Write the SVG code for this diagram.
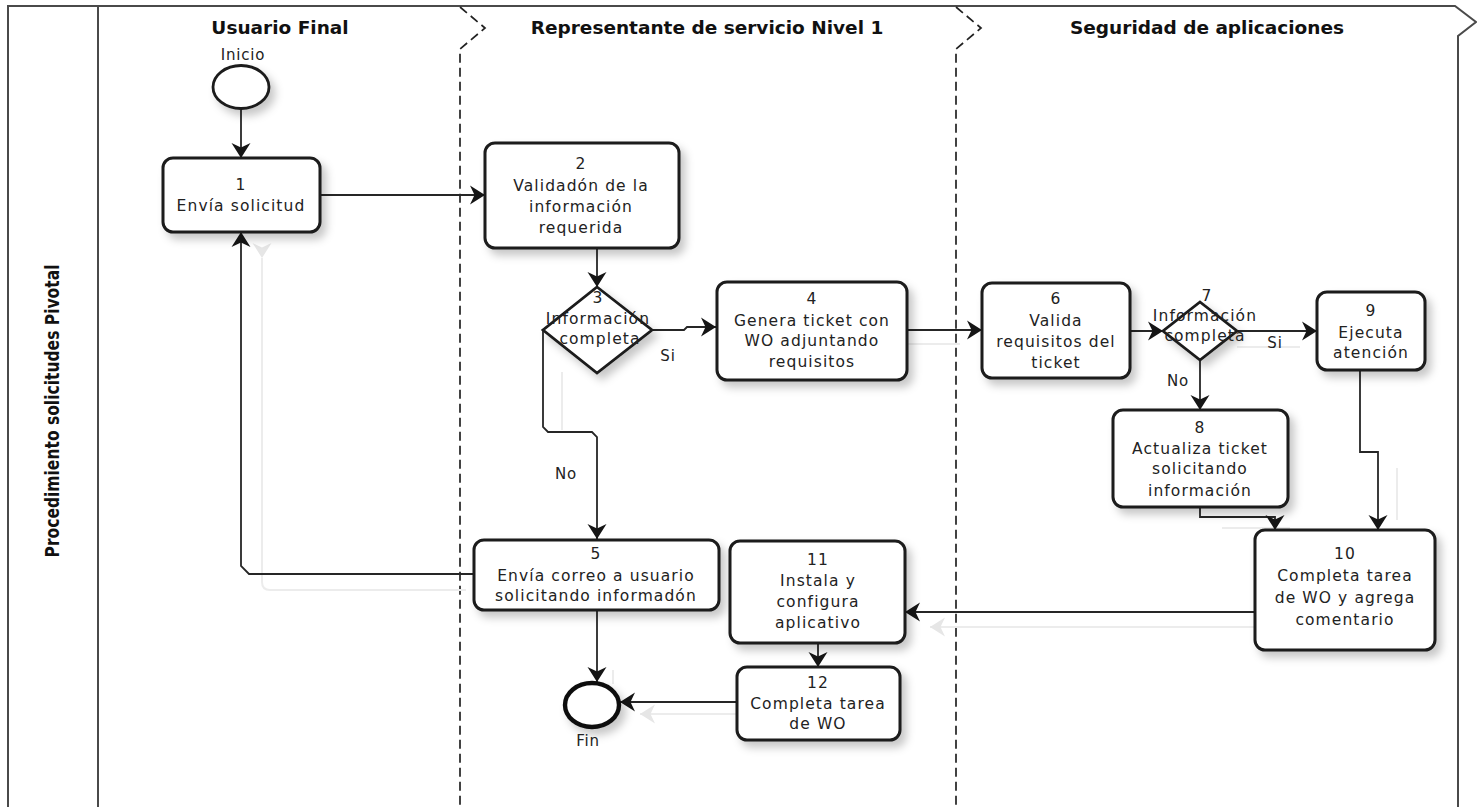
<svg xmlns="http://www.w3.org/2000/svg" width="1477" height="807" viewBox="0 0 1477 807">
  <defs>
    <style>
      .frame { fill: none; stroke: #4a4a4a; stroke-width: 2; }
      .lane { fill: none; stroke: #222222; stroke-width: 1.7; stroke-dasharray: 9 5; }
      .task { fill: #ffffff; stroke: #1a1a1a; stroke-width: 3; }
      .gate { fill: #ffffff; stroke: #1a1a1a; stroke-width: 2.8; }
      .ev { fill: #ffffff; stroke: #1a1a1a; stroke-width: 2.8; }
      .evend { fill: #ffffff; stroke: #111111; stroke-width: 4.4; }
      .flow { fill: none; stroke: #262626; stroke-width: 1.8; }
      .ghost { fill: none; stroke: #ececec; stroke-width: 2; }
      .hdr { font-family: "DejaVu Sans", Verdana, sans-serif; font-weight: bold; font-size: 18.5px; fill: #111111; text-anchor: middle; }
      .pool { font-family: "DejaVu Sans", Verdana, sans-serif; font-weight: bold; font-size: 19px; fill: #111111; text-anchor: middle; }
      .t { font-family: "DejaVu Sans", Verdana, sans-serif; font-size: 15.5px; letter-spacing: 1.1px; fill: #222222; text-anchor: middle; }
      .lbl { font-family: "DejaVu Sans", Verdana, sans-serif; font-size: 15px; letter-spacing: 0.8px; fill: #222222; text-anchor: middle; }
    </style>
    <filter id="shadow" x="-20%" y="-20%" width="150%" height="160%">
      <feDropShadow dx="5" dy="6" stdDeviation="4" flood-color="#000000" flood-opacity="0.22"/>
    </filter>
    <marker id="arr" markerUnits="userSpaceOnUse" markerWidth="18" markerHeight="22" viewBox="-16 -11 18 22" refX="0" refY="0" orient="auto">
      <path d="M0,0 L-15,-9.5 L-10.5,0 L-15,9.5 Z" fill="#151515"/>
    </marker>
    <marker id="arrGhost" markerUnits="userSpaceOnUse" markerWidth="18" markerHeight="22" viewBox="-16 -11 18 22" refX="0" refY="0" orient="auto">
      <path d="M0,0 L-15,-9.5 L-10.5,0 L-15,9.5 Z" fill="#e6e6e6"/>
    </marker>
  </defs>

  <rect x="0" y="0" width="1477" height="807" fill="#ffffff"/>

  <!-- pool frame -->
  <g id="pool">
    <path class="frame" d="M8,807 V6 H1455 L1476,22 L1458,36 V807"/>
    <line class="frame" x1="98" y1="6" x2="98" y2="807"/>
    <text class="pool" transform="translate(59,411) rotate(-90)" textLength="293" lengthAdjust="spacingAndGlyphs">Procedimiento solicitudes Pivotal</text>
  </g>

  <!-- lanes -->
  <g id="lanes">
    <path class="lane" d="M460,7 L485,28 L460,49 V807"/>
    <path class="lane" d="M956,7 L981,28 L956,49 V807"/>
    <text class="hdr" x="280" y="34">Usuario Final</text>
    <text class="hdr" x="707" y="34">Representante de servicio Nivel 1</text>
    <text class="hdr" x="1207" y="34">Seguridad de aplicaciones</text>
  </g>

  <!-- connectors -->
  <g id="connectors">
    <!-- faint duplicate traces -->
    <path class="ghost" d="M262,258 V582 Q262,590 270,590 H466" marker-start="url(#arrGhost)"/>
    <path class="ghost" d="M562,372 V430"/>
    <path class="ghost" d="M907,344 H960"/>
    <path class="ghost" d="M1237,347 H1300"/>
    <path class="ghost" d="M1397,468 V520"/>
    <path class="ghost" d="M1222,528 H1290"/>
    <path class="ghost" d="M1255,627 H930" marker-end="url(#arrGhost)"/>
    <path class="ghost" d="M737,714 H640" marker-end="url(#arrGhost)"/>
    <path class="ghost" d="M613,670 V684"/>

    <path class="flow" d="M241,109 V158" marker-end="url(#arr)"/>
    <path class="flow" d="M320,195 H485" marker-end="url(#arr)"/>
    <path class="flow" d="M597,248 V287" marker-end="url(#arr)"/>
    <path class="flow" d="M652,330 H684 L687,327 H716" marker-end="url(#arr)"/>
    <path class="flow" d="M543,330 V427 L548,432 H592 L597,437 V539" marker-end="url(#arr)"/>
    <path class="flow" d="M474,574 H249 L241,566 V232" marker-end="url(#arr)"/>
    <path class="flow" d="M597,610 V682" marker-end="url(#arr)"/>
    <path class="flow" d="M906,330 H982" marker-end="url(#arr)"/>
    <path class="flow" d="M1130,331 H1163" marker-end="url(#arr)"/>
    <path class="flow" d="M1237,331 H1317" marker-end="url(#arr)"/>
    <path class="flow" d="M1200,360 V410" marker-end="url(#arr)"/>
    <path class="flow" d="M1200,507 V517 H1275 V530" marker-end="url(#arr)"/>
    <path class="flow" d="M1360,370 V452 H1378 V530" marker-end="url(#arr)"/>
    <path class="flow" d="M1255,612 H905" marker-end="url(#arr)"/>
    <path class="flow" d="M818,643 V667" marker-end="url(#arr)"/>
    <path class="flow" d="M737,702 H620" marker-end="url(#arr)"/>

    <text class="lbl" x="668" y="361">Si</text>
    <text class="lbl" x="566" y="479">No</text>
    <text class="lbl" x="1275" y="348">Si</text>
    <text class="lbl" x="1178" y="386">No</text>
  </g>

  <!-- start event -->
  <g id="inicio">
    <ellipse class="ev" cx="241" cy="87" rx="28" ry="21.5" filter="url(#shadow)"/>
    <text class="lbl" x="243" y="60">Inicio</text>
  </g>

  <!-- 1 -->
  <g id="task1">
    <rect class="task" x="163" y="158" width="157" height="74" rx="10" filter="url(#shadow)"/>
    <text class="t" x="241" y="190">1</text>
    <text class="t" x="241" y="211">Envía solicitud</text>
  </g>

  <!-- 2 -->
  <g id="task2">
    <rect class="task" x="485" y="143" width="194" height="105" rx="10" filter="url(#shadow)"/>
    <text class="t" x="581" y="169">2</text>
    <text class="t" x="581" y="191">Validadón de la</text>
    <text class="t" x="581" y="212">información</text>
    <text class="t" x="581" y="233">requerida</text>
  </g>

  <!-- 3 -->
  <g id="gate3">
    <polygon class="gate" points="597,287 652,330 597,373 543,330" filter="url(#shadow)"/>
    <text class="t" x="598" y="303">3</text>
    <text class="t" x="598" y="324">Información</text>
    <text class="t" x="600" y="344">completa</text>
  </g>

  <!-- 4 -->
  <g id="task4">
    <rect class="task" x="717" y="282" width="190" height="98" rx="10" filter="url(#shadow)"/>
    <text class="t" x="812" y="304">4</text>
    <text class="t" x="812" y="326">Genera ticket con</text>
    <text class="t" x="812" y="346">WO adjuntando</text>
    <text class="t" x="812" y="367">requisitos</text>
  </g>

  <!-- 5 -->
  <g id="task5">
    <rect class="task" x="474" y="540" width="245" height="70" rx="10" filter="url(#shadow)"/>
    <text class="t" x="596" y="559">5</text>
    <text class="t" x="596" y="581">Envía correo a usuario</text>
    <text class="t" x="596" y="601">solicitando informadón</text>
  </g>

  <!-- 6 -->
  <g id="task6">
    <rect class="task" x="982" y="283" width="148" height="95" rx="10" filter="url(#shadow)"/>
    <text class="t" x="1056" y="304">6</text>
    <text class="t" x="1056" y="326">Valida</text>
    <text class="t" x="1056" y="347">requisitos del</text>
    <text class="t" x="1056" y="368">ticket</text>
  </g>

  <!-- 7 -->
  <g id="gate7">
    <polygon class="gate" points="1200,302 1237,331 1200,360 1163,331" filter="url(#shadow)"/>
    <text class="t" x="1207" y="301">7</text>
    <text class="t" x="1205" y="321">Información</text>
    <text class="t" x="1205" y="341">completa</text>
  </g>

  <!-- 8 -->
  <g id="task8">
    <rect class="task" x="1113" y="410" width="175" height="97" rx="10" filter="url(#shadow)"/>
    <text class="t" x="1200" y="433">8</text>
    <text class="t" x="1200" y="454">Actualiza ticket</text>
    <text class="t" x="1200" y="474">solicitando</text>
    <text class="t" x="1200" y="496">información</text>
  </g>

  <!-- 9 -->
  <g id="task9">
    <rect class="task" x="1317" y="292" width="108" height="78" rx="10" filter="url(#shadow)"/>
    <text class="t" x="1371" y="316">9</text>
    <text class="t" x="1371" y="338">Ejecuta</text>
    <text class="t" x="1371" y="358">atención</text>
  </g>

  <!-- 10 -->
  <g id="task10">
    <rect class="task" x="1255" y="530" width="180" height="120" rx="10" filter="url(#shadow)"/>
    <text class="t" x="1345" y="559">10</text>
    <text class="t" x="1345" y="581">Completa tarea</text>
    <text class="t" x="1345" y="603">de WO  y  agrega</text>
    <text class="t" x="1345" y="625">comentario</text>
  </g>

  <!-- 11 -->
  <g id="task11">
    <rect class="task" x="730" y="541" width="175" height="102" rx="10" filter="url(#shadow)"/>
    <text class="t" x="818" y="565">11</text>
    <text class="t" x="818" y="586">Instala y</text>
    <text class="t" x="818" y="607">configura</text>
    <text class="t" x="818" y="628">aplicativo</text>
  </g>

  <!-- 12 -->
  <g id="task12">
    <rect class="task" x="737" y="667" width="163" height="73" rx="10" filter="url(#shadow)"/>
    <text class="t" x="818" y="688">12</text>
    <text class="t" x="818" y="709">Completa tarea</text>
    <text class="t" x="818" y="729">de WO</text>
  </g>

  <!-- end event -->
  <g id="fin">
    <ellipse class="evend" cx="592" cy="705" rx="27" ry="22" filter="url(#shadow)"/>
    <text class="lbl" x="588" y="746">Fin</text>
  </g>
</svg>
